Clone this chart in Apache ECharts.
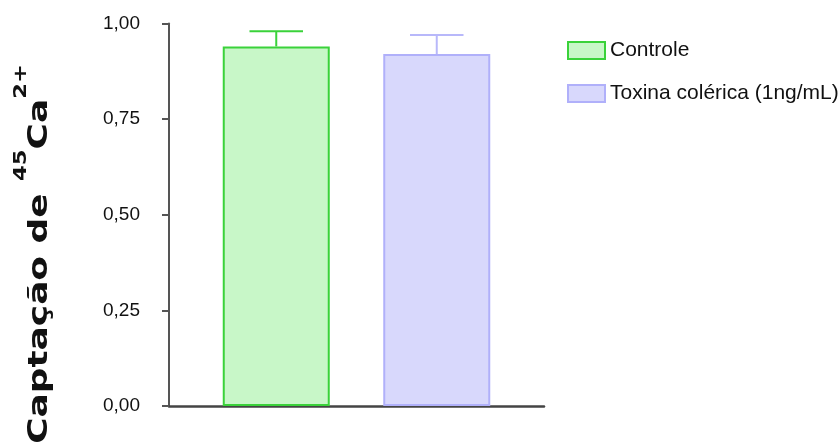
<!DOCTYPE html>
<html>
<head>
<meta charset="utf-8">
<script src="https://cdn.jsdelivr.net/npm/echarts@6/dist/echarts.min.js"></script>
<style>
  html, body { margin: 0; padding: 0; background: #fff; }
  #chart { width: 840px; height: 443px; }
</style>
</head>
<body>
<div id="chart"></div>
<script>
// Uptake of 45Ca2+ (relative), mean and SEM per group
const categories = [''];
const seriesNames = ['Controle', 'Toxina colérica (1ng/mL)'];
const controleMean = [0.94];
const controleSem = [0.04];
const toxinaMean = [0.92];
const toxinaSem = [0.05];
const yTicks = ['0,00', '0,25', '0,50', '0,75', '1,00'];

const BAR_WIDTH = 107;
const BAR_GAP = 0.5; // fraction of bar width

const chart = echarts.init(document.getElementById('chart'), null, { renderer: 'canvas' });

function errorSeries(name, means, sems, side, color) {
  return {
    name: name,
    type: 'custom',
    z: 5,
    silent: true,
    data: categories.map((c, i) => [i, means[i], means[i] + sems[i]]),
    encode: { x: 0, y: [1, 2] },
    renderItem: function (params, api) {
      const offset = side * (BAR_WIDTH + BAR_WIDTH * BAR_GAP) / 2;
      const base = api.coord([api.value(0), api.value(1)]);
      const top = api.coord([api.value(0), api.value(2)]);
      const cx = base[0] + offset;
      const half = BAR_WIDTH / 4;
      const style = { stroke: color, lineWidth: 2 };
      return {
        type: 'group',
        children: [
          { type: 'line', shape: { x1: cx, y1: base[1], x2: cx, y2: top[1] }, style: style },
          { type: 'line', shape: { x1: cx - half, y1: top[1], x2: cx + half, y2: top[1] }, style: style }
        ]
      };
    }
  };
}

const option = {
  animation: false,
  backgroundColor: '#ffffff',
  grid: { left: 169, right: 296, top: 23.5, bottom: 37, containLabel: false },
  legend: {
    data: seriesNames,
    orient: 'vertical',
    left: 562,
    top: 35,
    itemWidth: 37,
    itemHeight: 17,
    itemGap: 22,
    icon: 'rect',
    textStyle: { fontSize: 21, color: '#111', fontFamily: '"Liberation Sans", Arial, sans-serif', lineHeight: 21 }
  },
  xAxis: {
    type: 'category',
    data: categories,
    axisLine: { lineStyle: { color: '#444', width: 2.5 } },
    axisTick: { show: false },
    axisLabel: { show: false },
    splitLine: { show: false }
  },
  yAxis: {
    type: 'value',
    min: 0,
    max: 1,
    interval: 0.25,
    axisLine: { show: true, lineStyle: { color: '#555', width: 2 } },
    axisTick: { show: true, length: 7, lineStyle: { color: '#555', width: 2 } },
    splitLine: { show: false },
    axisLabel: {
      margin: 29,
      fontSize: 19,
      color: '#111',
      fontFamily: '"Liberation Sans", Arial, sans-serif',
      formatter: function (v) { return yTicks[Math.round(v / 0.25)]; }
    }
  },
  graphic: [
    {
      type: 'text',
      x: 33,
      y: 254,
      rotation: Math.PI / 2,
      scaleX: 1.33,
      style: {
        text: '{m|Captação de }{s|45}{m|Ca}{s|2+}',
        align: 'center',
        verticalAlign: 'middle',
        fill: '#111',
        rich: {
          m: { fontSize: 27, fontWeight: 'bold', fontFamily: '"DejaVu Sans", sans-serif', lineHeight: 40, verticalAlign: 'bottom', fill: '#111' },
          s: { fontSize: 17, fontWeight: 'bold', fontFamily: '"DejaVu Sans", sans-serif', lineHeight: 14, verticalAlign: 'top', fill: '#111' }
        }
      }
    }
  ],
  series: [
    {
      name: seriesNames[0],
      type: 'bar',
      data: controleMean,
      barWidth: BAR_WIDTH,
      barGap: (BAR_GAP * 100) + '%',
      itemStyle: { color: '#c8f7c8', borderColor: '#3ad23a', borderWidth: 2 }
    },
    {
      name: seriesNames[1],
      type: 'bar',
      data: toxinaMean,
      barWidth: BAR_WIDTH,
      barGap: (BAR_GAP * 100) + '%',
      itemStyle: { color: '#d8d8fc', borderColor: '#b0b0fa', borderWidth: 2 }
    },
    errorSeries('Controle EPM', controleMean, controleSem, -1, '#3ad23a'),
    errorSeries('Toxina EPM', toxinaMean, toxinaSem, 1, '#b8b8fa')
  ]
};

chart.setOption(option);
</script>
</body>
</html>
